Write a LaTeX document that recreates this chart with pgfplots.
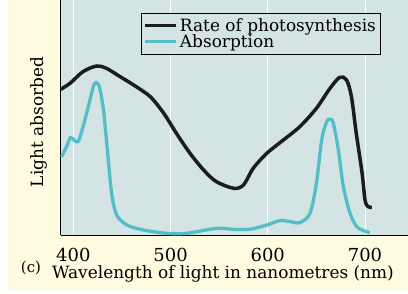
\documentclass[border=0pt]{standalone}
\usepackage{pgfplots}
\pgfplotsset{compat=1.18}
\usepackage{fontspec}
\setmainfont{DejaVu Serif}

\definecolor{pagebg}{RGB}{254,251,224}
\definecolor{plotbg}{RGB}{212,227,228}
\definecolor{ratecol}{RGB}{28,28,28}
\definecolor{abscol}{RGB}{84,190,200}

% Rate of photosynthesis (wavelength nm, relative level)
\pgfplotstableread{
x y
387 146
396.6 152
410 163.7
424 169.3
434 167
448 158.7
462 150.3
479 138.7
493 122
506 102
520 82
534 65.3
547 53.7
565 47
575 50.3
585 67
599 82
616 95.3
633 108.7
650 127
664 147
674 158
681 155.3
686 138.7
691 102
697 62
700 35.3
703 28.7
707 28
}\ratetable

% Absorption spectrum
\pgfplotstableread{
x y
388 78.7
393 88.7
397 97.7
400.7 95.3
405 93.7
410 108.7
415.4 128.7
420.6 148.7
423.3 152.7
426.7 148.7
431 125.3
435 85.3
439.4 42
444.6 20.3
455 10.3
472 5.3
496 2
516.6 2
547.4 7
564.6 6
581.7 6
599 10.3
612.6 14.7
623 13.7
633 12.7
643.4 22
650 52
655.4 95.3
660.6 113.7
664 116
667.4 112
672.6 85.3
677.7 48.7
684.6 22
691.4 8.7
698.3 4.7
705 2.7
}\abstable

\begin{document}
\begin{tikzpicture}
\useasboundingbox (0,0) rectangle (408bp,294bp);
\fill[pagebg] (0,0) rectangle (408bp,294bp);
\fill[white] (0,0) rectangle (8bp,294bp);
\fill[white] (0,0) rectangle (408bp,4bp);
\begin{axis}[
  at={(60.7bp,58.7bp)}, anchor=south west,
  scale only axis,
  width=347.3bp, height=235.3bp,
  xmin=387, xmax=744.2,
  ymin=0, ymax=235.3,
  axis background/.style={fill=plotbg},
  axis x line=bottom, axis y line=left,
  axis line style={-, black, line width=0.9bp},
  xtick={400,500,600,700},
  ytick=\empty,
  major tick length=0pt,
  xmajorgrids,
  major grid style={white, line width=0.8bp},
  /pgf/number format/assume math mode=true,
  xticklabel style={font=\fontsize{18}{20}\selectfont, anchor=center,
    inner sep=0pt, yshift=-20bp},
  clip=false,
  legend cell align=left,
  legend style={at={(0.2318,0.9448)}, anchor=north west,
    fill=plotbg, draw=black, line width=0.6bp,
    font=\fontsize{17}{18}\selectfont,
    inner xsep=2bp, inner ysep=3bp, row sep=-2bp},
  legend image code/.code={\draw[#1] (0bp,0bp) -- (31bp,0bp);},
]
\addplot[ratecol, line width=3.5bp, smooth, tension=0.5] table {\ratetable};
\addlegendentry{Rate of photosynthesis}
\addplot[abscol, line width=3.3bp, smooth, tension=0.5] table {\abstable};
\addlegendentry{Absorption}
\end{axis}
\node[font=\fontsize{17}{19}\selectfont, inner sep=0pt] at (223bp,20bp) {Wavelength of light in nanometres (nm)};
\node[font=\fontsize{15}{17}\selectfont, inner sep=0pt] at (31bp,26bp) {(c)};
\node[rotate=90, font=\fontsize{17}{19}\selectfont] at (39bp,172bp) {Light absorbed};
\end{tikzpicture}
\end{document}
